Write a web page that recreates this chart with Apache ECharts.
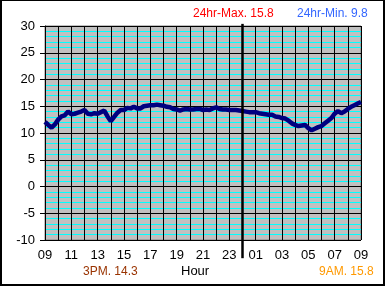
<!DOCTYPE html>
<html>
<head>
<meta charset="utf-8">
<script src="https://cdn.jsdelivr.net/npm/echarts@6/dist/echarts.min.js"></script>
<style>
  html, body { margin: 0; padding: 0; background: #fff; }
  #wrap { position: relative; width: 385px; height: 286px; }
  #chart { width: 385px; height: 286px; }
  #frame {
    position: absolute; left: 0; top: 0; width: 385px; height: 286px;
    box-sizing: border-box; border: 2px solid #000; border-top-width: 1px;
    pointer-events: none;
  }
</style>
</head>
<body>
<div id="wrap">
  <div id="chart"></div>
  <div id="frame"></div>
</div>
<script>
// 时间（每15分钟一个点，09:00 到次日 09:00）
const times = [
  '09:00','09:15','09:30','09:45','10:00','10:15','10:30','10:45',
  '11:00','11:15','11:30','11:45','12:00','12:15','12:30','12:45',
  '13:00','13:15','13:30','13:45','14:00','14:15','14:30','14:45',
  '15:00','15:15','15:30','15:45','16:00','16:15','16:30','16:45',
  '17:00','17:15','17:30','17:45','18:00','18:15','18:30','18:45',
  '19:00','19:15','19:30','19:45','20:00','20:15','20:30','20:45',
  '21:00','21:15','21:30','21:45','22:00','22:15','22:30','22:45',
  '23:00','23:15','23:30','23:45','00:00','00:15','00:30','00:45',
  '01:00','01:15','01:30','01:45','02:00','02:15','02:30','02:45',
  '03:00','03:15','03:30','03:45','04:00','04:15','04:30','04:45',
  '05:00','05:15','05:30','05:45','06:00','06:15','06:30','06:45',
  '07:00','07:15','07:30','07:45','08:00','08:15','08:30','08:45',
  '09:00 '
];

// 温度读数
const temps = [
  12.1, 11.5, 11.0, 11.6, 12.5, 13.1, 13.3, 14.0,
  13.5, 13.6, 13.8, 14.0, 14.3, 13.6, 13.5, 13.7,
  13.6, 13.9, 14.2, 13.1, 12.2, 13.0, 13.8, 14.3,
  14.3, 14.7, 14.6, 14.9, 14.6, 14.6, 15.0, 15.1,
  15.2, 15.2, 15.3, 15.2, 15.1, 14.9, 14.8, 14.5,
  14.4, 14.2, 14.4, 14.5, 14.4, 14.4, 14.5, 14.5,
  14.3, 14.4, 14.3, 14.6, 14.8, 14.5, 14.4, 14.4,
  14.3, 14.3, 14.3, 14.2, 14.1, 14.0, 13.9, 13.9,
  13.9, 13.7, 13.6, 13.5, 13.4, 13.4, 13.1, 13.0,
  12.8, 12.7, 12.3, 11.8, 11.5, 11.3, 11.4, 11.5,
  10.9, 10.5, 10.8, 11.1, 11.3, 11.8, 12.3, 12.8,
  13.6, 14.1, 13.7, 14.0, 14.5, 14.9, 15.2, 15.5,
  15.8
];

// 午夜分隔线
const midnight = '00:00';
const midnightSpan = [30.4, -13.4];

// 文字
const maxText = '24hr-Max. 15.8';
const minText = '24hr-Min. 9.8';
const pmText = '3PM. 14.3';
const amText = '9AM. 15.8';
const xName = 'Hour';

const font = 'Liberation Sans, Arial, sans-serif';
const chart = echarts.init(document.getElementById('chart'));

const option = {
  animation: false,
  backgroundColor: '#ffffff',
  textStyle: { fontFamily: font },
  title: [
    { text: maxText, left: 193, top: 8, padding: 0, textStyle: { color: '#ff0000', fontSize: 12, fontWeight: 'normal', fontFamily: font } },
    { text: minText, left: 297, top: 8, padding: 0, textStyle: { color: '#3366ff', fontSize: 12, fontWeight: 'normal', fontFamily: font } },
    { text: pmText, left: 83, top: 266, padding: 0, textStyle: { color: '#993300', fontSize: 12, fontWeight: 'normal', fontFamily: font } },
    { text: xName, left: 181, top: 265, padding: 0, textStyle: { color: '#000000', fontSize: 13, fontWeight: 'normal', fontFamily: font } },
    { text: amText, left: 319, top: 266, padding: 0, textStyle: { color: '#ff9900', fontSize: 12, fontWeight: 'normal', fontFamily: font } }
  ],
  grid: {
    left: 45,
    right: 24,
    top: 26,
    bottom: 46,
    show: true,
    backgroundColor: '#c0c0c0',
    borderColor: '#808080',
    borderWidth: 1
  },
  xAxis: {
    type: 'category',
    data: times,
    boundaryGap: false,
    axisLine: { lineStyle: { color: '#000', width: 1 } },
    axisTick: {
      show: true,
      length: 5,
      interval: (i) => i % 8 === 0,
      lineStyle: { color: '#000' }
    },
    axisLabel: {
      interval: (i) => i % 8 === 0,
      formatter: (v) => v.slice(0, 2),
      color: '#000',
      fontSize: 13,
      margin: 9,
      fontFamily: font
    },
    splitLine: {
      show: true,
      interval: (i) => i % 4 === 0,
      lineStyle: { color: '#000', width: 1 }
    }
  },
  yAxis: {
    type: 'value',
    min: -10,
    max: 30,
    interval: 5,
    axisLine: { show: true, lineStyle: { color: '#000', width: 1 } },
    axisTick: { show: true, length: 5, lineStyle: { color: '#000' } },
    axisLabel: { color: '#000', fontSize: 13, margin: 10, fontFamily: font },
    splitLine: { show: true, lineStyle: { color: '#000', width: 1 } },
    minorTick: { show: false, splitNumber: 5 },
    minorSplitLine: { show: true, lineStyle: { color: '#00ffff', width: 1 } }
  },
  series: [
    {
      name: 'temp',
      type: 'line',
      data: temps,
      showSymbol: false,
      symbol: 'none',
      lineStyle: { color: '#000080', width: 4.5 },
      z: 3
    },
    {
      name: 'midnight',
      type: 'line',
      data: [[midnight, midnightSpan[0]], [midnight, midnightSpan[1]]],
      symbol: 'none',
      clip: false,
      lineStyle: { color: '#000', width: 2.5 },
      z: 4
    }
  ]
};

chart.setOption(option);
</script>
</body>
</html>
